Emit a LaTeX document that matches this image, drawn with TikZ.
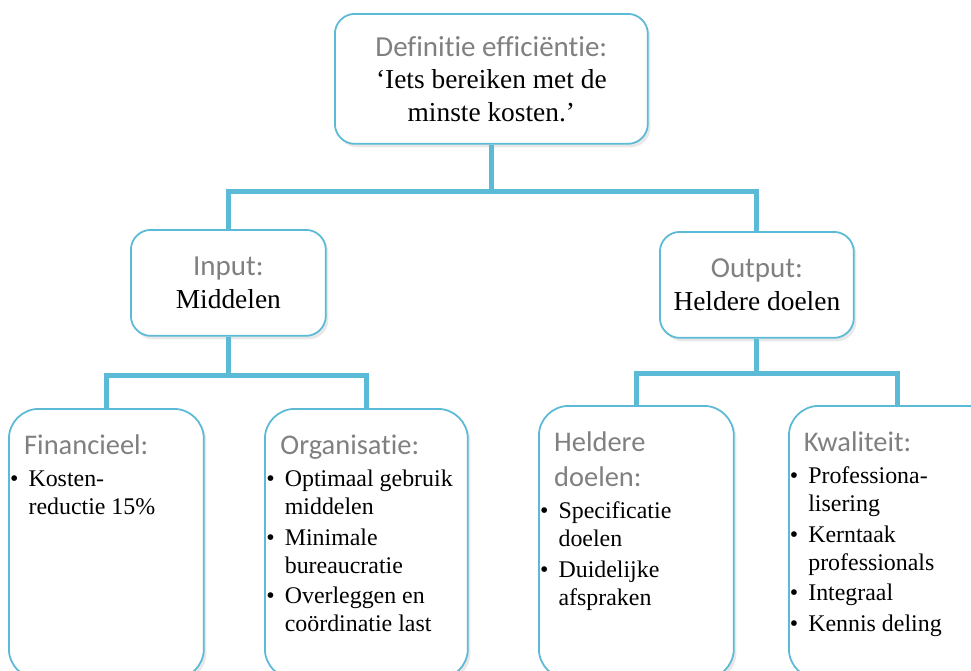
\documentclass[tikz,border=0pt]{standalone}
\usepackage{fontspec}
\setmainfont{Liberation Serif}
\newfontfamily\kopfont[Ligatures=NoCommon]{Carlito}
\usetikzlibrary{positioning, shadows}
\definecolor{lijnblauw}{HTML}{5BBAD5}
\definecolor{kopgrijs}{HTML}{808080}

\newcommand{\kop}[1]{{\kopfont\fontsize{16.5}{19.8}\selectfont\color{kopgrijs}#1}}
\newcommand{\blokkop}[1]{{\leftskip=8pt\noindent\kopfont\fontsize{16.2}{19.8}\selectfont
  \color{kopgrijs}\rule{0pt}{26pt}#1\par}\vspace{1pt}}
\newcommand{\punt}[1]{\par\hangindent=10.5pt\hangafter=1\noindent
  \makebox[10.5pt][l]{\textbullet}#1}
\newcommand{\blokinhoud}[3]{\parbox[t][#1][t]{#2}{\fontsize{13.6}{15.9}\selectfont
  \parskip=1.5pt #3}}

\tikzset{%
  x=0.02cm, y=-0.02cm,
  kader/.style={             % rounded box
    draw=lijnblauw,
    line width=1pt,
    fill=white,
    anchor=north west,
    inner sep=0pt,
    drop shadow={shadow xshift=1.5pt, shadow yshift=-2pt, opacity=0.18}},
  bovenkader/.style={
    kader,
    rounded corners=0.4cm,
    align=center,
    font=\fontsize{15.6}{18.5}\selectfont},
  onderkader/.style={
    kader,
    rounded corners=0.6cm,
    inner xsep=0.3pt},
  tak/.style={               % connector
    draw=lijnblauw,
    line width=2.8pt}
}

\begin{document}
\begin{tikzpicture}
  \useasboundingbox (0,0) rectangle (971,670);
  \clip (0,0) rectangle (971,670);

  \node[bovenkader, minimum width=6.26cm, minimum height=2.6cm] (def) at (334,13)
    {\kop{Definitie efficiëntie:}\\ ‘Iets bereiken met de\\ minste kosten.’};
  \node[bovenkader, minimum width=3.9cm, minimum height=2.12cm] (input) at (130,229)
    {\kop{Input:}\\ Middelen};
  \node[bovenkader, minimum width=3.88cm, minimum height=2.12cm] (output) at (659,231)
    {\kop{Output:}\\ Heldere doelen};

  \node[onderkader, minimum width=3.9cm, minimum height=5.4cm] (fin) at (8,408)
    {\blokinhoud{5.4cm}{3.85cm}{\blokkop{Financieel:}
      \punt{Kosten-\\reductie 15\%}}};
  \node[onderkader, minimum width=4.06cm, minimum height=5.4cm] (org) at (264,408)
    {\blokinhoud{5.4cm}{4.0cm}{\blokkop{Organisatie:}
      \punt{Optimaal gebruik\\middelen}
      \punt{Minimale\\bureaucratie}
      \punt{Overleggen en\\coördinatie last}}};
  \node[onderkader, minimum width=3.9cm, minimum height=5.46cm] (hel) at (538,405)
    {\blokinhoud{5.46cm}{3.85cm}{\blokkop{Heldere\\doelen:}
      \punt{Specificatie\\doelen}
      \punt{Duidelijke\\afspraken}}};
  \node[onderkader, minimum width=4.34cm, minimum height=5.46cm] (kwa) at (788,405)
    {\blokinhoud{5.46cm}{4.3cm}{\blokkop{Kwaliteit:}
      \punt{Professiona-\\lisering}
      \punt{Kerntaak\\professionals}
      \punt{Integraal}
      \punt{Kennis deling}}};

  \draw[tak] (def.south) -- ++(0,47) coordinate (splits1);
  \draw[tak] (input.north) |- (splits1) -| (output.north);

  \draw[tak] (input.south) -- ++(0,39) coordinate (splits2);
  \draw[tak] (fin.north) |- (splits2) -| (org.north);

  \draw[tak] (output.south) -- ++(0,35) coordinate (splits3);
  \draw[tak] (hel.north) |- (splits3) -| (kwa.north);
\end{tikzpicture}
\end{document}
